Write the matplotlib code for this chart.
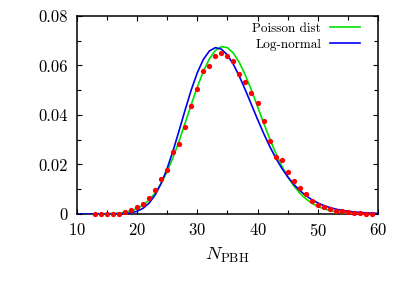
"""
PBH number distribution: simulated counts vs Poisson and log-normal fits
"""
import matplotlib
matplotlib.use("Agg")
import matplotlib.pyplot as plt
from matplotlib.ticker import MultipleLocator

# simulated histogram (red dots)
n_data = list(range(13, 60))
p_data = [0.0, 0.0, 0.0, 0.0, 0.0, 0.0008, 0.0016, 0.0027, 0.0042, 0.0063,
          0.0097, 0.0140, 0.0178, 0.0251, 0.0283, 0.0352, 0.0436, 0.0504, 0.0576, 0.0598,
          0.0640, 0.0650, 0.0640, 0.0618, 0.0566, 0.0533, 0.0489, 0.0447, 0.0374, 0.0294,
          0.0232, 0.0218, 0.0171, 0.0135, 0.0104, 0.0081, 0.0054, 0.0036, 0.0027, 0.0019,
          0.0013, 0.0011, 0.0007, 0.0003, 0.0003, 0.0001, 0.0001]

# fitted curves sampled at integer N
n_fit = list(range(10, 61))
p_poisson = [0.0, 0.0, 0.00001, 0.00001, 0.00003, 0.00008, 0.00017, 0.00035, 0.00067, 0.00123,
             0.00215, 0.00356, 0.00563, 0.00852, 0.01235, 0.01719, 0.02301, 0.02966, 0.03687, 0.04424,
             0.05132, 0.05761, 0.06265, 0.06607, 0.06762, 0.06723, 0.06499, 0.06113, 0.05598, 0.04995,
             0.04346, 0.03689, 0.03056, 0.02474, 0.01956, 0.01513, 0.01145, 0.00847, 0.00614, 0.00436,
             0.00304, 0.00207, 0.00139, 0.00091, 0.00059, 0.00037, 0.00023, 0.00014, 0.00008, 0.00005,
             0.00003]
p_lognormal = [0.0, 0.0, 0.0, 0.0, 0.0, 0.0, 0.00001, 0.00005, 0.00016, 0.00044,
               0.00107, 0.00229, 0.00440, 0.00769, 0.01236, 0.01844, 0.02574, 0.03386, 0.04223, 0.05018,
               0.05708, 0.06242, 0.06585, 0.06723, 0.06662, 0.06424, 0.06042, 0.05554, 0.05000, 0.04414,
               0.03828, 0.03266, 0.02745, 0.02274, 0.01860, 0.01504, 0.01202, 0.00951, 0.00745, 0.00579,
               0.00446, 0.00341, 0.00259, 0.00195, 0.00146, 0.00109, 0.00081, 0.00060, 0.00044, 0.00032,
               0.00023]

yticks = [0, 0.02, 0.04, 0.06, 0.08]
ytick_labels = ["0", "0.02", "0.04", "0.06", "0.08"]
xticks = [10, 20, 30, 40, 50, 60]

plt.rcParams.update({
    "font.family": "serif",
    "font.serif": ["cmr10"],
    "mathtext.fontset": "cm",
    "axes.formatter.use_mathtext": True,
})

fig = plt.figure(figsize=(4.09, 2.86), dpi=100)
ax = fig.add_axes([0.188, 0.252, 0.736, 0.692])

ax.plot(n_fit, p_poisson, color="#00e000", lw=1.2, label="Poisson dist", zorder=3)
ax.plot(n_fit, p_lognormal, color="#0000ee", lw=1.2, label="Log-normal", zorder=4)
ax.plot(n_data, p_data, "o", color="#ff0000", ms=3.8, mec="none", zorder=5, clip_on=False)

ax.set_xlim(10, 60)
ax.set_ylim(0, 0.08)
ax.set_xticks(xticks)
ax.set_yticks(yticks)
ax.set_yticklabels(ytick_labels)
ax.xaxis.set_minor_locator(MultipleLocator(5))
ax.yaxis.set_minor_locator(MultipleLocator(0.01))
ax.tick_params(which="both", direction="in", top=True, right=True, labelsize=12, width=0.8)
ax.tick_params(which="major", length=3.5)
ax.tick_params(axis="y", which="major", pad=6.5)
ax.tick_params(axis="x", which="major", pad=6)
ax.tick_params(which="minor", length=3.0)
for s in ax.spines.values():
    s.set_linewidth(1.1)

ax.set_xlabel(r"$N_{\rm PBH}$", fontsize=13.5, labelpad=5)

ax.legend(loc="upper right", bbox_to_anchor=(0.880, 0.921), bbox_transform=fig.transFigure,
          frameon=False, markerfirst=False, fontsize=9.5, borderpad=0, borderaxespad=0,
          handlelength=2.3, handletextpad=0.65, labelspacing=0.28)

fig.savefig("out.png", dpi=100)
